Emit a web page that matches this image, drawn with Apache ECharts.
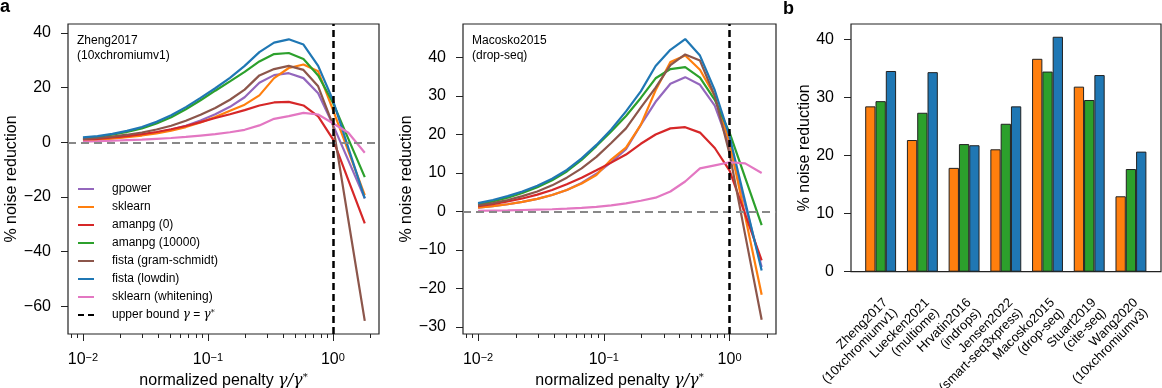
<!DOCTYPE html>
<html>
<head>
<meta charset="utf-8">
<script src="https://cdn.jsdelivr.net/npm/echarts@6/dist/echarts.min.js"></script>
<style>
html, body { margin: 0; background: #fff; }
#main { width: 1162px; height: 388px; }
</style>
</head>
<body>
<div id="main"></div>
<script>
var FONT = 'Liberation Sans, Arial, Helvetica, sans-serif';

// normalized penalty gamma / gamma*
var penalty = [0.01, 0.0131, 0.0172, 0.0225, 0.0296, 0.0388, 0.0508, 0.0666, 0.0873, 0.1145,
    0.1501, 0.1968, 0.2581, 0.3384, 0.4437, 0.5817, 0.7627, 1.0, 1.33, 1.8];

var methods = ['gpower', 'sklearn', 'amanpg (0)', 'amanpg (10000)', 'fista (gram-schmidt)', 'fista (lowdin)', 'sklearn (whitening)'];
var colors = ['#9467bd', '#ff7f0e', '#d62728', '#2ca02c', '#8c564b', '#1f77b4', '#e377c2'];
var upperName = 'upper bound';

// Zheng2017 (10xchromiumv1)
var zhengGpower = [0.9, 1.2, 1.6, 2.1, 2.8, 3.6, 4.7, 6.1, 8.0, 10.3, 13.0, 16.5, 21.8, 24.6, 25.3, 23.5, 18.0, 6.5, -6.6, -20.5];
var zhengSklearn = [0.7, 1.0, 1.4, 1.9, 2.5, 3.3, 4.3, 5.6, 7.3, 9.3, 11.6, 13.8, 17.2, 23.5, 27.2, 28.5, 26.0, 12.0, -3.2, -19.3];
var zhengAmanpg0 = [1.0, 1.3, 1.8, 2.3, 3.0, 3.8, 4.8, 6.0, 7.4, 8.9, 10.3, 11.8, 13.5, 14.6, 14.8, 13.5, 9.5, 1.2, -13.8, -29.6];
var zhengAmanpg1e4 = [1.5, 2.0, 2.8, 3.8, 5.1, 6.9, 9.2, 12.1, 15.4, 18.9, 22.3, 25.8, 29.6, 32.3, 32.7, 30.5, 24.5, 14.6, 1.3, -12.7];
var zhengFistaGs = [1.2, 1.6, 2.1, 2.8, 3.6, 4.7, 6.1, 7.9, 10.1, 12.6, 15.6, 19.3, 24.5, 26.8, 28.0, 26.5, 20.5, 6.5, -28.4, -65.3];
var zhengFistaLowdin = [1.8, 2.3, 3.1, 4.2, 5.6, 7.5, 9.9, 12.9, 16.3, 19.8, 23.6, 28.0, 33.0, 36.5, 37.7, 35.8, 28.0, 15.5, -2.0, -20.5];
var zhengWhitening = [0.3, 0.4, 0.6, 0.8, 1.0, 1.3, 1.6, 2.0, 2.5, 3.0, 3.7, 4.6, 6.2, 8.6, 9.6, 10.8, 10.2, 7.0, 3.5, -3.8];

// Macosko2015 (drop-seq)
var macoGpower = [1.0, 1.4, 1.9, 2.5, 3.3, 4.3, 5.6, 7.4, 9.8, 12.8, 16.2, 22.5, 28.5, 33.2, 34.9, 32.9, 27.5, 17.0, 1.7, -14.4];
var macoSklearn = [1.0, 1.4, 1.9, 2.5, 3.3, 4.3, 5.6, 7.3, 9.5, 13.5, 16.6, 22.5, 31.5, 38.8, 40.5, 36.8, 30.0, 18.0, -1.2, -21.6];
var macoAmanpg0 = [1.4, 1.9, 2.6, 3.4, 4.4, 5.6, 7.1, 8.8, 10.7, 12.7, 14.8, 17.6, 20.0, 21.6, 21.9, 20.5, 16.5, 10.6, -0.7, -12.7];
var macoAmanpg1e4 = [1.8, 2.6, 3.6, 4.8, 6.3, 8.1, 10.4, 13.4, 17.0, 20.8, 24.8, 29.5, 34.6, 37.0, 37.5, 34.8, 29.0, 20.5, 8.8, -3.5];
var macoFistaGs = [1.6, 2.2, 3.0, 4.0, 5.2, 6.8, 8.8, 11.2, 14.2, 17.8, 21.6, 27.0, 32.2, 38.0, 40.8, 39.2, 30.0, 15.0, -6.0, -28.1];
var macoFistaLowdin = [2.2, 3.0, 4.0, 5.2, 6.7, 8.5, 10.8, 13.8, 17.3, 21.3, 26.0, 31.2, 37.8, 42.0, 44.8, 40.5, 31.5, 19.5, 2.6, -15.3];
var macoWhitening = [0.2, 0.25, 0.3, 0.4, 0.5, 0.6, 0.75, 0.95, 1.2, 1.6, 2.1, 2.8, 3.6, 5.2, 7.8, 11.2, 12.0, 12.8, 12.5, 10.0];

// panel b
var datasets = ['Zheng2017\n(10xchromiumv1)', 'Luecken2021\n(multiome)', 'Hrvatin2016\n(indrops)', 'Jensen2022\n(smart-seq3xpress)',
    'Macosko2015\n(drop-seq)', 'Stuart2019\n(cite-seq)', 'Wang2020\n(10xchromiumv3)'];
var barSklearn = [28.5, 22.7, 17.9, 21.1, 36.7, 31.9, 13.0];
var barAmanpg = [29.4, 27.4, 22.0, 25.5, 34.5, 29.6, 17.7];
var barFista = [34.6, 34.4, 21.8, 28.5, 40.5, 33.9, 20.7];

var majorTicks = [0.01, 0.1, 1];
var minorTicks = [0.008, 0.009, 0.02, 0.03, 0.04, 0.05, 0.06, 0.07, 0.08, 0.09,
    0.2, 0.3, 0.4, 0.5, 0.6, 0.7, 0.8, 0.9, 2];
var zhengYTicks = [-60, -40, -20, 0, 20, 40];
var macoYTicks = [-30, -20, -10, 0, 10, 20, 30, 40];

var zhengCurves = [zhengGpower, zhengSklearn, zhengAmanpg0, zhengAmanpg1e4, zhengFistaGs, zhengFistaLowdin, zhengWhitening];
var macoCurves = [macoGpower, macoSklearn, macoAmanpg0, macoAmanpg1e4, macoFistaGs, macoFistaLowdin, macoWhitening];

var myChart = echarts.init(document.getElementById('main'));

var xMin = 0.00759, xMax = 2.34;
var tickColor = '#222';

function minus(v) {
    return String(v).replace('-', '\u2212');
}

function powLabel(v) {
    var e = Math.round(Math.log10(v));
    return '{b|10}{e|' + (e < 0 ? '\u2212' : '') + Math.abs(e) + '}';
}

var nameStyle = {
    fontSize: 16, fontFamily: FONT, color: '#000',
    rich: {
        g: { fontSize: 16, fontFamily: 'DejaVu Serif', fontStyle: 'italic', color: '#000' },
        s: { fontSize: 10, fontFamily: 'DejaVu Serif', verticalAlign: 'top', color: '#000' }
    }
};

function logAxes(grid) {
    return [
        {
            type: 'log', logBase: 10, gridIndex: grid, position: 'bottom', min: xMin, max: xMax,
            name: 'normalized penalty {g|\u03b3/\u03b3}{s|*}', nameLocation: 'middle', nameGap: 38,
            nameTextStyle: nameStyle,
            axisLine: { show: false, onZero: false },
            splitLine: { show: false },
            axisTick: { customValues: majorTicks, length: 7, lineStyle: { color: tickColor, width: 1 } },
            axisLabel: {
                customValues: majorTicks, formatter: powLabel, margin: 18, color: '#000',
                rich: {
                    b: { fontSize: 16, fontFamily: FONT, color: '#000' },
                    e: { fontSize: 11, fontFamily: FONT, color: '#000', verticalAlign: 'top' }
                }
            }
        },
        {
            type: 'log', logBase: 10, gridIndex: grid, position: 'bottom', min: xMin, max: xMax,
            axisLine: { show: false, onZero: false },
            splitLine: { show: false },
            axisTick: { customValues: minorTicks, length: 4, lineStyle: { color: tickColor, width: 1 } },
            axisLabel: { show: false }
        }
    ];
}

function valueYAxis(grid, min, max, ticks, gap) {
    return {
        type: 'value', gridIndex: grid, min: min, max: max,
        name: '% noise reduction', nameLocation: 'middle', nameGap: gap,
        nameTextStyle: { fontSize: 16, fontFamily: FONT, color: '#000' },
        axisLine: { show: false, onZero: false },
        splitLine: { show: false },
        axisTick: { customValues: ticks, length: 7, lineStyle: { color: tickColor, width: 1 } },
        axisLabel: { customValues: ticks, formatter: minus, margin: 17, fontSize: 16, fontFamily: FONT, color: '#000' }
    };
}

function curveSeries(curves, xi, yi) {
    var out = curves.map(function (ys, i) {
        return {
            name: methods[i], type: 'line', xAxisIndex: xi, yAxisIndex: yi,
            symbol: 'none', silent: true, color: colors[i],
            itemStyle: { opacity: 0 },
            lineStyle: { width: 2.2, color: colors[i] },
            data: penalty.map(function (x, j) { return [x, ys[j]]; })
        };
    });
    out.push({
        name: upperName, type: 'line', xAxisIndex: xi, yAxisIndex: yi,
        symbol: 'none', silent: true, color: '#000',
        itemStyle: { opacity: 0 },
        lineStyle: { width: 2.5, color: '#000', type: [6, 4] },
        data: [],
        markLine: {
            silent: true, symbol: 'none', label: { show: false }, animation: false,
            data: [
                { yAxis: 0, lineStyle: { color: '#888', type: [8, 5], width: 1.8 } },
                { xAxis: 1, lineStyle: { color: '#000', type: [7, 4], width: 2.5 } }
            ]
        }
    });
    return out;
}

var barColors = ['#ff7f0e', '#2ca02c', '#1f77b4'];
var barNames = ['sklearn', 'amanpg (10000)', 'fista (lowdin)'];
var barSeries = [barSklearn, barAmanpg, barFista].map(function (vals, i) {
    return {
        name: barNames[i] + ' ', type: 'bar', xAxisIndex: 5, yAxisIndex: 3,
        barWidth: 10.3, barGap: '0%', silent: true,
        itemStyle: { color: barColors[i], borderColor: '#222', borderWidth: 1 },
        data: vals
    };
});

var frame = { show: true, borderColor: '#222', borderWidth: 1.2, backgroundColor: 'transparent', outerBoundsMode: 'none', containLabel: false };

var option = {
    animation: false,
    textStyle: { fontFamily: FONT },
    title: [
        { text: 'a', left: 0, top: -2, padding: 0, textStyle: { fontSize: 18, fontWeight: 'bold', fontFamily: FONT, color: '#000' } },
        { text: 'b', left: 783, top: 0, padding: 0, textStyle: { fontSize: 18, fontWeight: 'bold', fontFamily: FONT, color: '#000' } },
        { text: 'Zheng2017\n(10xchromiumv1)', left: 77, top: 33, padding: 0,
          textStyle: { fontSize: 12, lineHeight: 15, fontWeight: 'normal', fontFamily: FONT, color: '#000' } },
        { text: 'Macosko2015\n(drop-seq)', left: 472, top: 33, padding: 0,
          textStyle: { fontSize: 12, lineHeight: 15, fontWeight: 'normal', fontFamily: FONT, color: '#000' } }
    ],
    legend: {
        orient: 'vertical', left: 77, top: 183, padding: 0,
        itemWidth: 16, itemHeight: 10, itemGap: 6, selectedMode: false,
        itemStyle: { opacity: 0 },
        data: methods.concat([upperName]),
        formatter: function (name) {
            return name === upperName ? 'upper bound {g|\u03b3} = {g|\u03b3}{s|*}' : name;
        },
        textStyle: {
            fontSize: 12, fontFamily: FONT, color: '#000', padding: [0, 0, 0, 13],
            rich: {
                g: { fontSize: 12, fontFamily: 'DejaVu Serif', fontStyle: 'italic', color: '#000' },
                s: { fontSize: 8, fontFamily: 'DejaVu Serif', verticalAlign: 'top', color: '#000' }
            }
        }
    },
    grid: [
        Object.assign({ left: 68, top: 24, width: 311, height: 310 }, frame),
        Object.assign({ left: 463, top: 24, width: 313, height: 310 }, frame),
        Object.assign({ left: 851, top: 24, width: 310, height: 247.7 }, frame),
        { left: 859.8, top: 24, width: 292, height: 247.7, show: false, outerBoundsMode: 'none', containLabel: false }
    ],
    xAxis: logAxes(0).concat(logAxes(1)).concat([
        { type: 'value', gridIndex: 2, min: 0, max: 1, show: false },
        {
            type: 'category', gridIndex: 3, data: datasets, position: 'bottom',
            axisLine: { show: false, onZero: false },
            axisTick: { alignWithLabel: true, length: 7, lineStyle: { color: tickColor, width: 1 } },
            axisLabel: {
                interval: 0, rotate: 45, margin: 24, fontSize: 13, lineHeight: 14,
                fontFamily: FONT, color: '#000', align: 'right', verticalAlign: 'top'
            }
        }
    ]),
    yAxis: [
        valueYAxis(0, -70.1, 43.3, zhengYTicks, 42),
        valueYAxis(1, -31.8, 48.7, macoYTicks, 47),
        {
            type: 'value', gridIndex: 2, min: 0, max: 42.7, interval: 10,
            name: '% noise reduction', nameLocation: 'middle', nameGap: 36,
            nameTextStyle: { fontSize: 16, fontFamily: FONT, color: '#000' },
            axisLine: { show: false, onZero: false },
            splitLine: { show: false },
            axisTick: { length: 7, lineStyle: { color: tickColor, width: 1 } },
            axisLabel: { margin: 17, fontSize: 16, fontFamily: FONT, color: '#000' }
        },
        { type: 'value', gridIndex: 3, min: 0, max: 42.7, show: false }
    ],
    series: curveSeries(zhengCurves, 0, 0).concat(curveSeries(macoCurves, 2, 1)).concat(barSeries)
};

myChart.setOption(option);
</script>
</body>
</html>
